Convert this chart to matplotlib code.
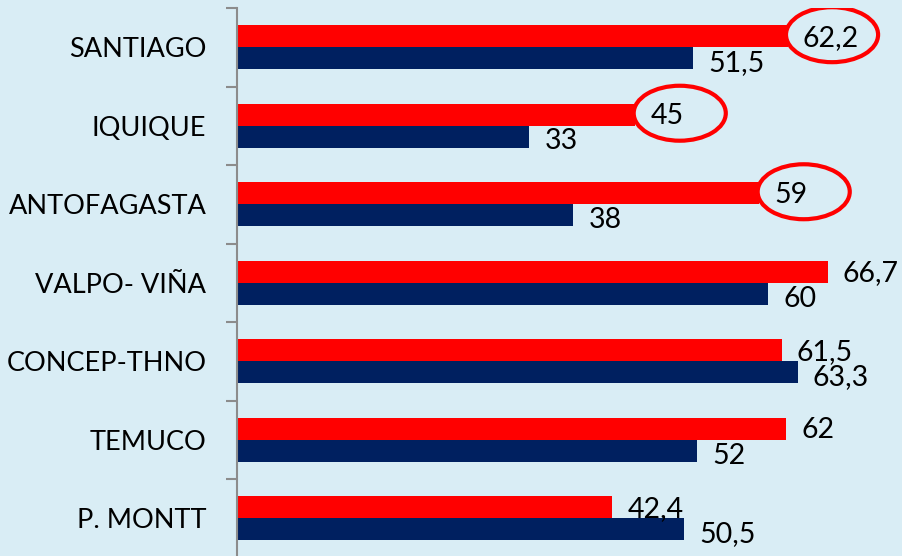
import numpy as np
import matplotlib
matplotlib.use("Agg")
from matplotlib import pyplot as plt
from matplotlib.patches import Ellipse

ciudades = ["SANTIAGO", "IQUIQUE", "ANTOFAGASTA", "VALPO- VIÑA",
            "CONCEP-THNO", "TEMUCO", "P. MONTT"]
serie_roja = [62.2, 45, 59, 66.7, 61.5, 62, 42.4]
serie_azul = [51.5, 33, 38, 60, 63.3, 52, 50.5]
marcadas = ["SANTIAGO", "IQUIQUE", "ANTOFAGASTA"]

ROJO = "#ff0000"
AZUL = "#002060"
FONDO = "#d9edf5"


def fmt(v):
    s = ("%.1f" % v).rstrip("0").rstrip(".")
    return s.replace(".", ",")


plt.rcParams['font.family'] = ['Lato', 'DejaVu Sans']

fig = plt.figure(figsize=(9.02, 5.56), dpi=100)
fig.patch.set_facecolor(FONDO)
ax = fig.add_axes([237 / 902, -0.003, 1 - 237 / 902, 1 - 8 / 556 + 0.003])
ax.set_facecolor(FONDO)

y = np.arange(len(ciudades))
h = 0.28
ax.barh(y - h / 2, serie_roja, height=h, color=ROJO)
ax.barh(y + h / 2, serie_azul, height=h, color=AZUL)

for i, (r, a) in enumerate(zip(serie_roja, serie_azul)):
    ax.text(r + 1.7, i - h / 2 + 0.02, fmt(r), va="center", ha="left", fontsize=20.5)
    ax.text(a + 1.7, i + h / 2 + 0.06, fmt(a), va="center", ha="left", fontsize=20.5)
    if ciudades[i] in marcadas:
        ax.add_patch(Ellipse((r + 5.0, i - h / 2 - 0.02), 10.4, 0.70,
                             fill=False, edgecolor=ROJO, lw=3))

ax.set_xlim(0, 75.1)
ax.set_ylim(6.5, -0.5)
ax.set_yticks(y)
ax.set_yticklabels(ciudades, fontsize=19.5)
ax.set_yticks(np.arange(-0.5, 7, 1), minor=True)
ax.tick_params(axis="y", which="major", length=0, pad=22)
ax.tick_params(axis="y", which="minor", length=8, width=1.5, color="#8c8c8c")
ax.set_xticks([])
for s in ["top", "right", "bottom"]:
    ax.spines[s].set_visible(False)
ax.spines["left"].set_color("#8c8c8c")
ax.spines["left"].set_linewidth(1.5)

fig.savefig("out.png", dpi=100, facecolor=FONDO)
